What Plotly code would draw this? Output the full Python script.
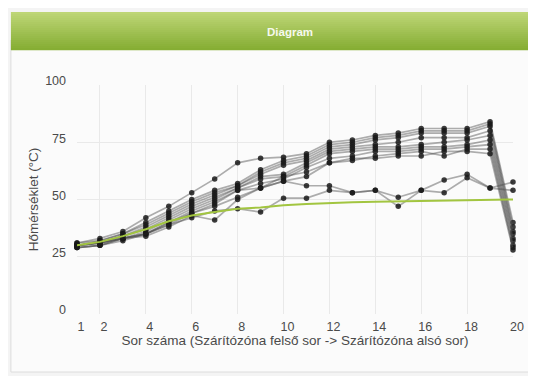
import plotly.graph_objects as go

rows = list(range(1, 21))

gray_series = [
    [31, 33, 36, 42, 47, 53, 59, 66, 68, 68.5, 70, 75, 76, 78, 79, 81, 81, 81, 84, 40],
    [30, 32, 35, 40, 45, 50, 54, 57, 63, 67, 69, 74, 75, 77, 78, 80, 80, 80, 83, 38],
    [31, 32, 35, 39, 44, 49, 53, 56, 62, 66, 68, 73, 74, 76, 77, 79, 79, 79, 82, 36],
    [30, 31, 34, 38, 43, 48, 52, 56, 61, 65, 67, 72, 73, 74, 75, 77, 77, 77, 80, 35],
    [30, 31, 34, 37, 42, 47, 51, 55, 60, 61, 66, 71, 72, 73, 73, 74, 75, 76, 78, 33],
    [29, 30, 33, 36, 41, 46, 50, 55, 59, 60, 65, 70, 71, 72, 72, 73, 73, 74, 76, 32],
    [30, 31, 33, 35, 40, 45, 49, 54, 57, 59, 64, 68, 69, 71, 71, 72, 72, 73, 74, 30],
    [29, 30, 32, 35, 39, 44, 48, 54, 55, 58, 60, 66, 67, 69, 70, 71, 69, 72, 72, 29],
    [29, 30, 33, 34, 38, 43, 41, 50, 55, 60, 62, 66, 68, 68, 69, 69, 71, 71, 70, 28],
    [30, 31, 33, 35, 40, 44, 47, 51, 55, 58, 56, 56, 53, 54, 51, 54, 58.5, 61, 55, 57.6],
    [30, 31, 33, 35, 39, 42, 45, 46, 44.5, 50.6, 50.6, 54, 53, 54, 47, 54, 53, 59.5, 55, 54],
]

target = [30, 31.5, 34, 37, 40.5, 43, 44.5, 46, 46.5, 47.5, 48, 48.5, 48.8, 49, 49.2, 49.4, 49.6, 49.8, 50, 50]

x_ticks = [1, 2, 4, 6, 8, 10, 12, 14, 16, 18, 20]
y_ticks = [0, 25, 50, 75, 100]

OFF = 8  # default page body margin
SW, SH = 536, 376
W, H = SW - OFF, SH - OFF
L, R, T, B = 77 - OFF, 17, 85 - OFF, 62
pw, ph = W - L - R, H - T - B


def px(xs):
    return (xs - OFF - L) / pw


def py(ys):
    return (H - B - (ys - OFF)) / ph


fig = go.Figure()

for s in gray_series:
    fig.add_trace(go.Scatter(
        x=rows, y=s, mode="lines+markers",
        line=dict(color="rgba(75,75,75,0.45)", width=1.7),
        marker=dict(color="rgba(25,25,25,0.85)", size=5.5),
        cliponaxis=False, showlegend=False, hoverinfo="skip"))

fig.add_trace(go.Scatter(
    x=rows, y=target, mode="lines",
    line=dict(color="#a2c540", width=2),
    cliponaxis=False, showlegend=False, hoverinfo="skip"))

shapes = []
shapes.append(dict(type="rect", xref="paper", yref="paper", x0=px(10), x1=px(SW + 5), y0=py(SH - 4), y1=py(40),
                   fillcolor="#fbfbfb", line=dict(color="#dcdcdc", width=1), layer="below"))
# title bar gradient
top, bot = 12, 50
n = 19
c0 = (190, 214, 118)
c1 = (134, 174, 52)
for i in range(n):
    t = i / (n - 1)
    c = tuple(int(c0[k] + (c1[k] - c0[k]) * t) for k in range(3))
    y0 = top + (bot - top) * i / n
    y1 = top + (bot - top) * (i + 1) / n
    shapes.append(dict(type="rect", xref="paper", yref="paper", x0=px(10), x1=px(SW + 5),
                       y0=py(y1 + 0.3), y1=py(y0), fillcolor="rgb(%d,%d,%d)" % c,
                       line=dict(width=0), layer="below"))

fig.update_layout(
    width=W, height=H,
    margin=dict(l=L, r=R, t=T, b=B),
    paper_bgcolor="#f4f4f4", plot_bgcolor="rgba(0,0,0,0)",
    font=dict(family="Liberation Sans, Arial, sans-serif", size=12.5, color="#4a4a4a"),
    shapes=shapes,
    annotations=[dict(text="<b>Diagram</b>", xref="paper", yref="paper", x=px(293), y=py(32),
                      xanchor="center", yanchor="middle",
                      showarrow=False, font=dict(color="#f6f9ee", size=11.5))],
    xaxis=dict(range=[1, 20], tickvals=x_ticks, ticktext=[str(v) for v in x_ticks],
               showgrid=True, gridcolor="#e9e9e9", zeroline=False, showline=False,
               ticklabelstandoff=3, ticklabelshift=4, tickfont=dict(size=12.5),
               title=dict(text="Sor száma (Szárítózóna felső sor -> Szárítózóna alsó sor)",
                          standoff=0, font=dict(size=13.5, color="#4a4a4a"))),
    yaxis=dict(range=[0, 100], tickvals=y_ticks, showgrid=True, gridcolor="#e9e9e9",
               zeroline=False, showline=False, ticklabelstandoff=10, ticklabelshift=-4,
               tickfont=dict(size=12.5),
               title=dict(text="Hőmérséklet (°C)", standoff=3, font=dict(size=13.5, color="#4a4a4a"))),
)

fig.write_html("out.html")
